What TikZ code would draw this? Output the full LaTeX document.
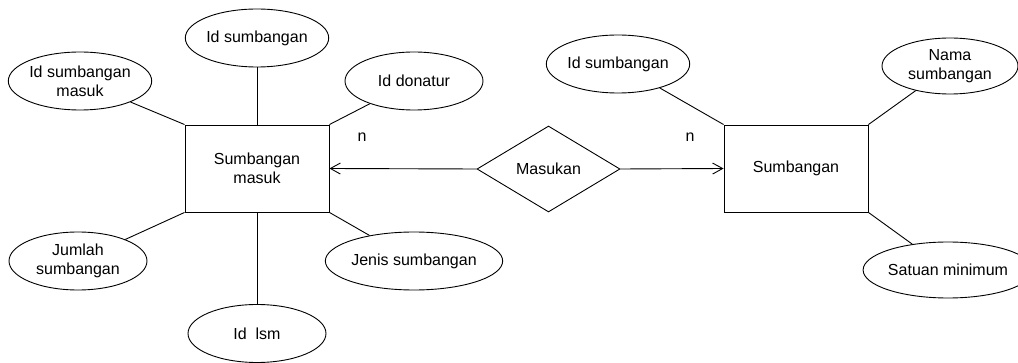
\documentclass[tikz,border=0pt]{standalone}
\usepackage{fontspec}
\setmainfont{Liberation Sans}
\usetikzlibrary{shapes.geometric,arrows.meta}
\begin{document}
\begin{tikzpicture}[x=1pt,y=-1pt,
  every node/.style={font=\fontsize{16}{19}\selectfont, text=black},
  attr/.style={draw, ellipse, inner sep=0pt, minimum width=138pt, minimum height=58pt, align=center, line width=0.9pt},
  ent/.style={draw, rectangle, inner sep=0pt, minimum width=144pt, minimum height=87pt, align=center, line width=0.9pt},
  rel/.style={draw, diamond, inner sep=0pt, aspect=1.66, minimum width=143pt, minimum height=86pt, line width=0.9pt},
  link/.style={draw=black, line width=0.9pt},
  arr/.style={link, -{Straight Barb[length=10pt,width=11pt,line width=0.9pt]}}
]
\useasboundingbox (0,0) rectangle (1018,363);

\node[ent] (r1) at (257,168.5) {Sumbangan\\masuk};
\node[ent] (r2) at (796,168.5) {Sumbangan};
\node[rel] (d) at (548.5,169) {Masukan};

\node[attr] (a1) at (257,38) {Id sumbangan};
\node[attr] (a2) at (80,81) {Id sumbangan\\masuk};
\node[attr] (a3) at (414,81) {Id donatur};
\node[attr] (a4) at (78,261) {Jumlah\\sumbangan};
\node[attr] (a5) at (414,261) {Jenis sumbangan};
\node[attr] (a6) at (257,333.5) {Id\ \ lsm};

\node[attr] (b1) at (618,64) {Id sumbangan};
\node[attr, minimum width=136pt, minimum height=56pt] (b2) at (950,66) {Nama\\sumbangan};
\node[attr, minimum width=136pt, minimum height=56pt] (b3) at (948,270) {Satuan minimum};

\node (n1) at (362,137) {n};
\node (n2) at (690,137) {n};

\path[link] (a1) -- (r1.north);
\path[link] (a6) -- (r1.south);
\path[link] (a2) -- (r1.north west);
\path[link] (a3) -- (r1.north east);
\path[link] (a4) -- (r1.south west);
\path[link] (a5) -- (r1.south east);

\path[link] (b1) -- (r2.north west);
\path[link] (b2) -- (r2.north east);
\path[link] (b3) -- (r2.south east);

\path[arr] (d.west) -- (r1.east);
\path[arr] (d.east) -- (r2.west);
\end{tikzpicture}
\end{document}
